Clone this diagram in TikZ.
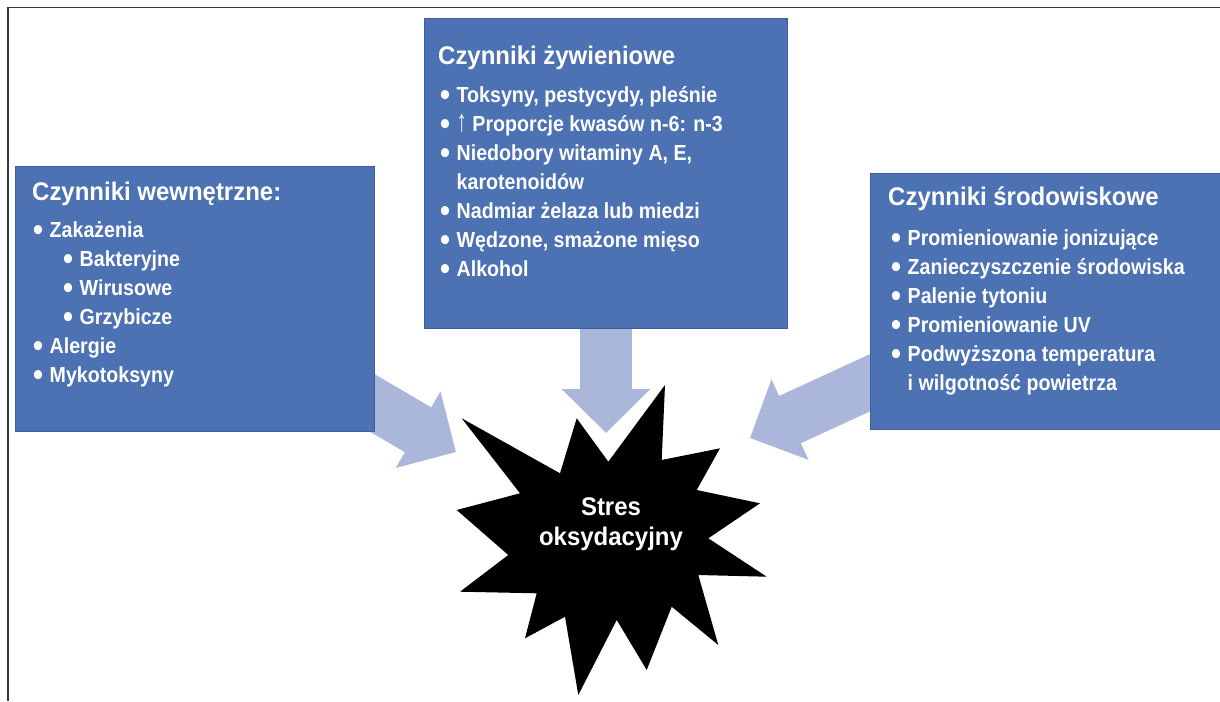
\documentclass[tikz,border=0pt]{standalone}
\usepackage{fontspec}
\usepackage{graphicx}
\setmainfont{Liberation Sans}
\newfontfamily\bodyfont{Liberation Sans}[FakeStretch=0.9]
\newfontfamily\titlefont{Liberation Sans}[FakeStretch=0.94]
\usetikzlibrary{arrows.meta,backgrounds}
\definecolor{boxblue}{RGB}{76,114,180}
\definecolor{boxedge}{RGB}{58,94,160}
\definecolor{arrowc}{RGB}{170,182,218}
\definecolor{framec}{RGB}{55,55,55}
\newcommand\bulletmark{\makebox[16.5pt][l]{\raisebox{-3.8pt}{\scalebox{1.45}{•}}}}
\newcommand\uparr{\raisebox{-0.5pt}{\scalebox{1.05}[1.4]{↑}}}
\begin{document}
\begin{tikzpicture}[x=1pt,y=-1pt,
  box/.style={fill=boxblue, draw=boxedge, line width=1pt, inner sep=0, anchor=north west},
  ttl/.style={anchor=base west, inner sep=0, text=white, font=\titlefont\bfseries\fontsize{25.5}{30}\selectfont},
  itm/.style={anchor=base west, inner sep=0, text=white, font=\bodyfont\bfseries\fontsize{21.8}{26}\selectfont},
  flow/.style={draw=arrowc, line width=52pt, -{Triangle[length=44pt, width=86pt]}},
]
\useasboundingbox (0,0) rectangle (1220,701);
\begin{pgfonlayer}{background}
\fill[white] (0,0) rectangle (1220,701);
\end{pgfonlayer}
\draw[framec, line width=1.6pt] (8,701) -- (8,7.5) -- (1220,7.5);

% boxes
\node[box, minimum width=359pt, minimum height=265pt] (L) at (15,166) {};
\node[box, minimum width=363pt, minimum height=310pt] (M) at (424,18) {};
\node[box, minimum width=352pt, minimum height=256pt] (R) at (870,173) {};

% star
\fill[black] (461.7,418.3) -- (560,473.3) -- (576.7,418.3) -- (608.3,461.7) -- (665,385) -- (661.7,460) -- (720,448.3) -- (696.7,490) -- (760,503.3) -- (708.3,538.3) -- (766.7,576.7) -- (698.3,575) -- (718.3,645) -- (671.7,606.7) -- (646.7,670) -- (616.7,620) -- (578.3,695) -- (565,616.7) -- (525,638.3) -- (536.7,593.3) -- (460,591.7) -- (508.3,555) -- (456.7,510) -- (520,493.3) -- cycle;
\node[anchor=base, align=center, inner sep=0, text=white, font=\titlefont\bfseries\fontsize{25.5}{30}\selectfont] (S) at (611,545) {Stres\\oksydacyjny};

% arrows (behind boxes)
\coordinate (lt) at (456,452);
\coordinate (mt) at (606,433);
\coordinate (rt) at (750,438);
\begin{pgfonlayer}{background}
\draw[flow] (L.center) -- (lt);
\draw[flow] (M.center) -- (mt);
\draw[flow] (R.center) -- (rt);
\end{pgfonlayer}

% left text
\node[ttl] (Lt) at (32,200) {Czynniki wewnętrzne:};
\node[itm] (L1) at (33,237) {\bulletmark Zakażenia};
\node[itm] (L2) at (63,266) {\bulletmark Bakteryjne};
\node[itm] (L3) at (63,295) {\bulletmark Wirusowe};
\node[itm] (L4) at (63,324) {\bulletmark Grzybicze};
\node[itm] (L5) at (33,353) {\bulletmark Alergie};
\node[itm] (L6) at (33,382) {\bulletmark Mykotoksyny};

% middle text
\node[ttl] (Mt) at (438,65) {Czynniki żywieniowe};
\node[itm] (M1) at (440,102) {\bulletmark Toksyny, pestycydy, pleśnie};
\node[itm] (M2) at (440,131) {\bulletmark \uparr\ Proporcje kwasów n-6: n-3};
\node[itm] (M3) at (440,160) {\bulletmark Niedobory witaminy A, E,};
\node[itm] (M3b) at (456.5,189) {karotenoidów};
\node[itm] (M4) at (440,218) {\bulletmark Nadmiar żelaza lub miedzi};
\node[itm] (M5) at (440,247) {\bulletmark Wędzone, smażone mięso};
\node[itm] (M6) at (440,276) {\bulletmark Alkohol};

% right text
\node[ttl] (Rt) at (888,205) {Czynniki środowiskowe};
\node[itm] (R1) at (891,245) {\bulletmark Promieniowanie jonizujące};
\node[itm] (R2) at (891,274) {\bulletmark Zanieczyszczenie środowiska};
\node[itm] (R3) at (891,303) {\bulletmark Palenie tytoniu};
\node[itm] (R4) at (891,332) {\bulletmark Promieniowanie UV};
\node[itm] (R5) at (891,361) {\bulletmark Podwyższona temperatura};
\node[itm] (R5b) at (907.5,390) {i wilgotność powietrza};
\end{tikzpicture}
\end{document}
